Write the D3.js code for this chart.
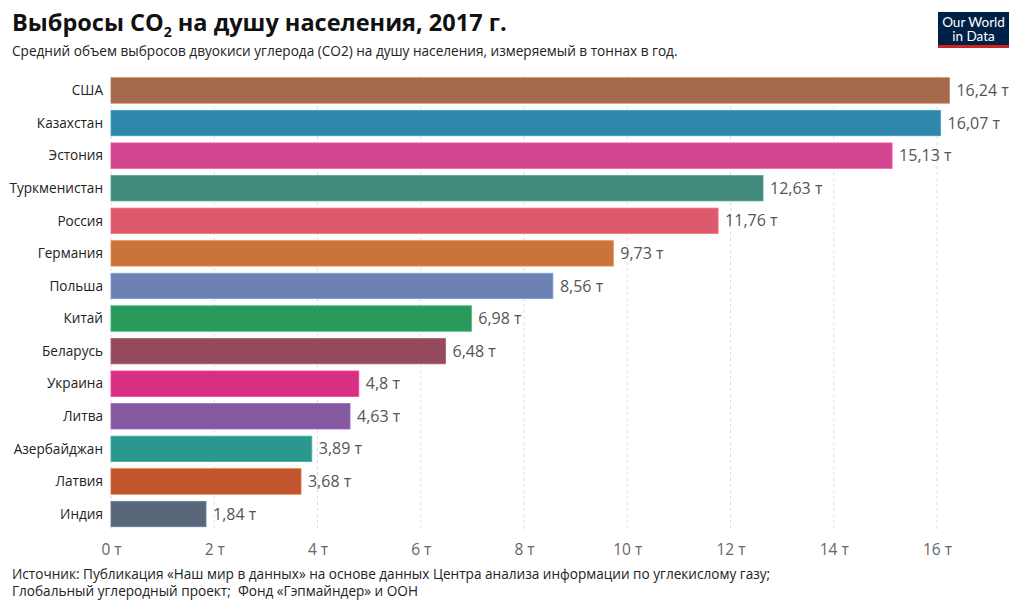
<!DOCTYPE html>
<html><head><meta charset="utf-8">
<script src="https://cdn.jsdelivr.net/npm/d3@7"></script>
<style>
body{margin:0;background:#fff;font-family:"Open Sans","Noto Sans",sans-serif;}
</style></head><body>
<svg id="c" width="1011" height="600"></svg>
<script>
const countries = ["США","Казахстан","Эстония","Туркменистан","Россия","Германия","Польша","Китай","Беларусь","Украина","Литва","Азербайджан","Латвия","Индия"];
const values = [16.24,16.07,15.13,12.63,11.76,9.73,8.56,6.98,6.48,4.8,4.63,3.89,3.68,1.84];
const colors = ["#a3694a","#2f88ab","#d2458f","#428a7c","#dd5a6d","#c8743b","#6b82b2","#2a9a5c","#964b5c","#d82f85","#8559a0","#2b978e","#c0552e","#586779"];
const ticks = [0,2,4,6,8,10,12,14,16];

const svg = d3.select("#c");
const x = d3.scaleLinear().domain([0,16]).range([111,937]);
const y = d3.scaleBand().domain(countries).range([74.5,530]).paddingInner(0.22).paddingOuter(0.1);
const fmt = v => String(v).replace(".", ",") + " т";

// title
const t = svg.append("text").attr("x",12).attr("y",31).attr("font-size",23.5).attr("font-weight",700).attr("fill","#111");
t.append("tspan").text("Выбросы CO");
t.append("tspan").text("2").attr("font-size",14).attr("dy",6);
t.append("tspan").text(" на душу населения, 2017 г.").attr("dy",-6);
svg.append("text").attr("x",12).attr("y",56).attr("font-size",13.6).attr("fill","#222")
  .text("Средний объем выбросов двуокиси углерода (CO2) на душу населения, измеряемый в тоннах в год.");

// logo
const lg = svg.append("g");
lg.append("rect").attr("x",938).attr("y",12).attr("width",71).attr("height",36).attr("fill","#002147");
lg.append("rect").attr("x",938).attr("y",45).attr("width",71).attr("height",3).attr("fill","#ce261e");
lg.append("text").attr("x",973.5).attr("y",27).attr("text-anchor","middle").attr("font-size",13.5).attr("fill","#fff").attr("font-family","Lato, sans-serif").text("Our World");
lg.append("text").attr("x",973.5).attr("y",41).attr("text-anchor","middle").attr("font-size",13.5).attr("fill","#fff").attr("font-family","Lato, sans-serif").text("in Data");

// grid
svg.append("g").selectAll("line").data(ticks).join("line")
  .attr("x1",d=>x(d)).attr("x2",d=>x(d)).attr("y1",76).attr("y2",532)
  .attr("stroke","#ddd").attr("stroke-dasharray","3,3").attr("stroke-width",1);

// x axis
const ax = svg.append("g").attr("transform","translate(0,532)")
  .call(d3.axisBottom(x).tickValues(ticks).tickFormat(d=>d+" т").tickSize(0).tickPadding(12));
ax.select(".domain").remove();
ax.selectAll("text").attr("font-size",15.5).attr("fill","#666").attr("font-family","Open Sans, sans-serif");

// bars
svg.append("g").selectAll("rect").data(countries).join("rect")
  .attr("x",x(0)).attr("y",d=>y(d)).attr("width",(d,i)=>x(values[i])-x(0)).attr("height",y.bandwidth())
  .attr("fill",(d,i)=>colors[i])
  .attr("stroke",(d,i)=>d3.color(colors[i]).brighter(0.5)).attr("stroke-width",0.8);

// labels
svg.append("g").selectAll("text").data(countries).join("text")
  .attr("x",103).attr("y",d=>y(d)+y.bandwidth()/2).attr("dy","0.35em")
  .attr("text-anchor","end").attr("font-size",13.6).attr("fill","#222").text(d=>d);

svg.append("g").selectAll("text").data(countries).join("text")
  .attr("x",(d,i)=>x(values[i])+7).attr("y",d=>y(d)+y.bandwidth()/2).attr("dy","0.35em")
  .attr("font-size",16).attr("fill","#555").text((d,i)=>fmt(values[i]));

// footer
svg.append("text").attr("x",12).attr("y",579).attr("font-size",13.6).attr("fill","#222")
  .text("Источник: Публикация «Наш мир в данных» на основе данных Центра анализа информации по углекислому газу;");
svg.append("text").attr("x",12).attr("y",596).attr("font-size",13.6).attr("fill","#222").attr("xml:space","preserve")
  .text("Глобальный углеродный проект;  Фонд «Гэпмайндер» и ООН");
</script></body></html>
